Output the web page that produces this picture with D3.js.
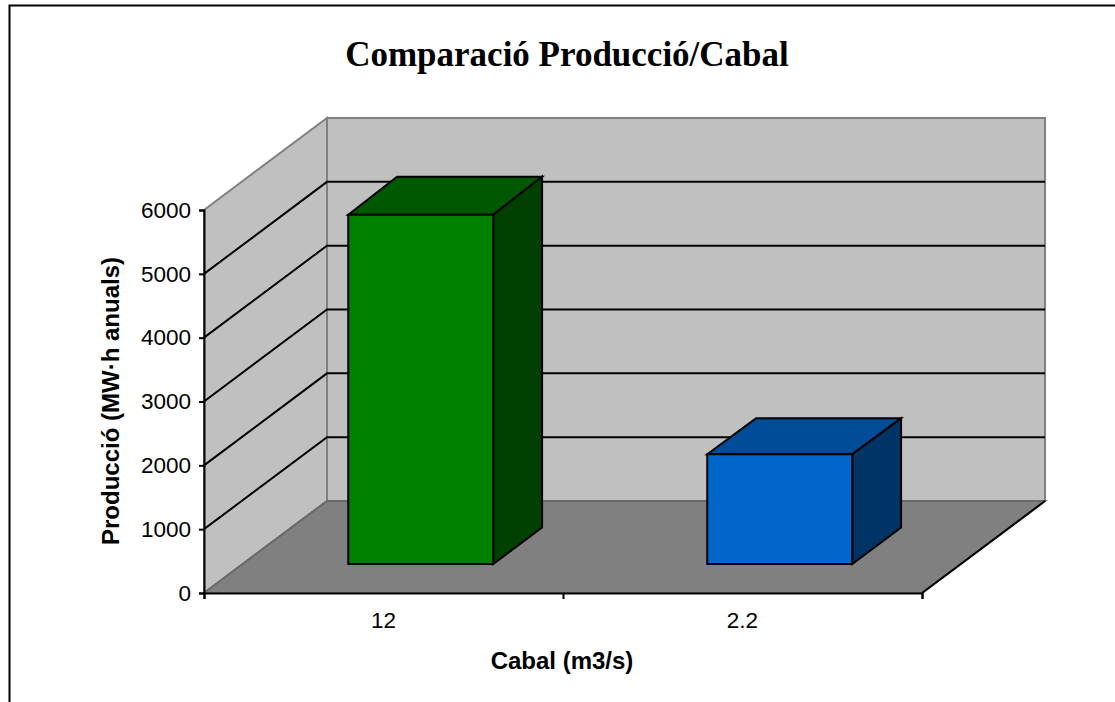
<!DOCTYPE html>
<html><head><meta charset="utf-8">
<script src="https://cdn.jsdelivr.net/npm/d3@7/dist/d3.min.js"></script>
<style>html,body{margin:0;padding:0;background:#fff}svg{display:block}</style>
</head><body><svg id="c" width="1115" height="702"></svg>
<script>
const categories = ["12", "2.2"];
const values = [5470, 1720];
const frontColors = ["#008000", "#0066CC"];
const topColors = ["#005900", "#004C99"];
const sideColors = ["#004000", "#003366"];
const yTicks = [0, 1000, 2000, 3000, 4000, 5000, 6000];
const titleText = "Comparació Producció/Cabal";
const xTitle = "Cabal (m3/s)";
const yTitle = "Producció (MW·h anuals)";

const svg = d3.select("#c");
const y = d3.scaleLinear().domain([0, 6000]).range([593, 210]);
const x = d3.scaleBand().domain(categories).range([204, 922]);
const depthX = d3.scaleLinear().domain([0, 1]).range([0, 123]);
const depthY = d3.scaleLinear().domain([0, 1]).range([0, -92]);
const barFrontZ = 0.315, barBackZ = 0.712, barW = 145;
const topBackZ = [0.73, 0.705];
const pt = (px, py, z, zy = z) => [px + depthX(z), py + depthY(zy)];
const line = d3.line();
const poly = (pts, fill, stroke, sw) => svg.append("path")
  .attr("d", line(pts) + "Z").attr("fill", fill)
  .attr("stroke", stroke).attr("stroke-width", sw).attr("stroke-linejoin", "miter");
const seg = (pts, stroke, sw) => svg.append("path")
  .attr("d", line(pts)).attr("fill", "none").attr("stroke", stroke).attr("stroke-width", sw);

// chart frame (its right and bottom edges lie outside the picture)
svg.append("rect").attr("x", 9.5).attr("y", 5.5).attr("width", 1200).attr("height", 800)
  .attr("fill", "#fff").attr("stroke", "#000").attr("stroke-width", 2);

const x0 = x.range()[0], x1 = x.range()[1], y0 = y(0), yTop = y(6000);
// back wall, side wall, floor
poly([pt(x0, yTop, 1), pt(x1, yTop, 1), pt(x1, y0, 1), pt(x0, y0, 1)], "#C0C0C0", "#808080", 2);
poly([pt(x0, yTop, 0), pt(x0, yTop, 1), pt(x0, y0, 1), pt(x0, y0, 0)], "#C0C0C0", "#808080", 2);
poly([pt(x0, y0, 0), pt(x0, y0, 1), pt(x1, y0, 1), pt(x1, y0, 0)], "#808080", "#696969", 2);
seg([pt(x1, y0, 0), pt(x1, y0, 1)], "#000", 2);

// gridlines
yTicks.filter(t => t > 0 && t < 6000).forEach(t => {
  seg([pt(x0, y(t), 0), pt(x0, y(t), 1), pt(x1, y(t), 1)], "#000", 2);
});

// bars
categories.forEach((c, i) => {
  const left = x(c) + (x.bandwidth() - barW) / 2 - 1.5, right = left + barW;
  const b = y(0), t = y(values[i]);
  const tz = topBackZ[i];
  poly([pt(left, t, barFrontZ), pt(left, t, barBackZ, tz), pt(right, t, barBackZ, tz), pt(right, t, barFrontZ)], topColors[i], "#000", 2);
  poly([pt(right, t, barFrontZ), pt(right, t, barBackZ, tz), pt(right, b, barBackZ), pt(right, b, barFrontZ)], sideColors[i], "#000", 2);
  poly([pt(left, t, barFrontZ), pt(right, t, barFrontZ), pt(right, b, barFrontZ), pt(left, b, barFrontZ)], frontColors[i], "#000", 2);
});

// axes
const sans = "'Liberation Sans', Arial, sans-serif";
const yAxis = svg.append("g").attr("transform", `translate(${x0},0)`)
  .call(d3.axisLeft(y).tickValues(yTicks).tickSize(5).tickPadding(8).tickFormat(d3.format("d")));
yAxis.selectAll("line,path").attr("stroke", "#000").attr("stroke-width", 2);
yAxis.selectAll("text").attr("fill", "#000").attr("font-family", sans).attr("font-size", 22.5);

const tickScale = d3.scaleLinear().domain([0, 2]).range([x0, x1]);
const xAxis = svg.append("g").attr("transform", `translate(0,${y0})`)
  .call(d3.axisBottom(tickScale).tickValues([0, 1, 2]).tickSize(6).tickFormat(""));
xAxis.selectAll("line,path").attr("stroke", "#000").attr("stroke-width", 2);
svg.selectAll(".cat").data(categories).join("text").attr("class", "cat")
  .attr("x", d => x(d) + x.bandwidth() / 2).attr("y", 628)
  .attr("text-anchor", "middle").attr("font-family", sans).attr("font-size", 22.5).attr("fill", "#000")
  .text(d => d);

// titles
svg.append("text").attr("x", 567).attr("y", 66).attr("text-anchor", "middle")
  .attr("font-family", "'Liberation Serif', serif").attr("font-weight", "bold").attr("font-size", 35)
  .text(titleText);
svg.append("text").attr("x", 562).attr("y", 669).attr("text-anchor", "middle")
  .attr("font-family", sans).attr("font-weight", "bold").attr("font-size", 24)
  .text(xTitle);
svg.append("text").attr("transform", "translate(119,401) rotate(-90)").attr("text-anchor", "middle")
  .attr("font-family", sans).attr("font-weight", "bold").attr("font-size", 24)
  .text(yTitle);
</script></body></html>
